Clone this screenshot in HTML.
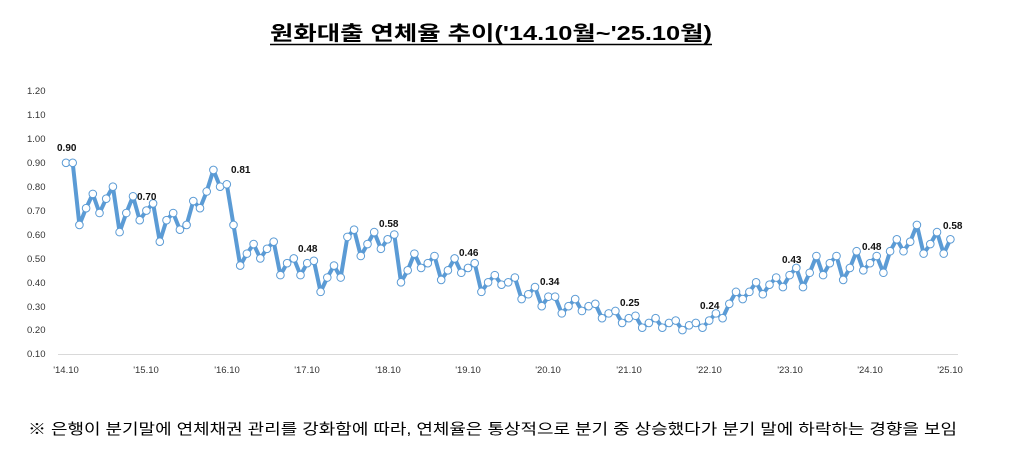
<!DOCTYPE html>
<html><head><meta charset="utf-8"><style>
html,body{margin:0;padding:0;background:#fff;width:1009px;height:469px;overflow:hidden}
</style></head><body>
<svg width="1009" height="469" xmlns="http://www.w3.org/2000/svg" font-family="'Liberation Sans','Noto Sans CJK KR',sans-serif" style="position:absolute;left:0;top:0">
<text x="491" y="40" text-anchor="middle" font-size="20" font-weight="bold" fill="#000" textLength="442" lengthAdjust="spacingAndGlyphs">원화대출 연체율 추이('14.10월~'25.10월)</text>
<line x1="270" y1="44.5" x2="712" y2="44.5" stroke="#000" stroke-width="1.5"/>
<g font-size="9.5" fill="#333" text-anchor="start">
<text x="27" y="94">1.20</text><text x="27" y="118">1.10</text><text x="27" y="142">1.00</text><text x="27" y="166">0.90</text><text x="27" y="190">0.80</text><text x="27" y="214">0.70</text><text x="27" y="238">0.60</text><text x="27" y="262">0.50</text><text x="27" y="286">0.40</text><text x="27" y="310">0.30</text><text x="27" y="333">0.20</text><text x="27" y="357">0.10</text>
</g>
<line x1="58" y1="354.5" x2="958" y2="354.5" stroke="#d9d9d9" stroke-width="1"/>
<g font-size="9.5" fill="#333" text-anchor="middle">
<text x="66" y="373">'14.10</text><text x="146" y="373">'15.10</text><text x="227" y="373">'16.10</text><text x="307" y="373">'17.10</text><text x="388" y="373">'18.10</text><text x="468" y="373">'19.10</text><text x="548" y="373">'20.10</text><text x="629" y="373">'21.10</text><text x="709" y="373">'22.10</text><text x="790" y="373">'23.10</text><text x="870" y="373">'24.10</text><text x="950" y="373">'25.10</text>
</g>
<g id="series"></g>
<g font-size="10" font-weight="bold" fill="#111">
<text x="57" y="151">0.90</text>
<text x="137" y="200">0.70</text>
<text x="231" y="173">0.81</text>
<text x="298" y="252">0.48</text>
<text x="379" y="227">0.58</text>
<text x="459" y="256">0.46</text>
<text x="540" y="285">0.34</text>
<text x="620" y="306">0.25</text>
<text x="700" y="309">0.24</text>
<text x="782" y="263">0.43</text>
<text x="862" y="250">0.48</text>
<text x="943" y="229">0.58</text>
</g>
<text x="28" y="434" font-size="15" fill="#000" textLength="929" lengthAdjust="spacingAndGlyphs">※ 은행이 분기말에 연체채권 관리를 강화함에 따라, 연체율은 통상적으로 분기 중 상승했다가 분기 말에 하락하는 경향을 보임</text>
</svg>
<script>
var d=[0.90,0.90,0.64,0.71,0.77,0.69,0.75,0.80,0.61,0.69,0.76,0.66,0.70,0.73,0.57,0.66,0.69,0.62,0.64,0.74,0.71,0.78,0.87,0.80,0.81,0.64,0.47,0.52,0.56,0.50,0.54,0.57,0.43,0.48,0.50,0.43,0.48,0.49,0.36,0.42,0.47,0.42,0.59,0.62,0.51,0.56,0.61,0.54,0.58,0.60,0.40,0.45,0.52,0.46,0.48,0.51,0.41,0.45,0.50,0.44,0.46,0.48,0.36,0.40,0.43,0.39,0.40,0.42,0.33,0.35,0.38,0.30,0.34,0.34,0.27,0.30,0.33,0.28,0.30,0.31,0.25,0.27,0.28,0.23,0.25,0.26,0.21,0.23,0.25,0.21,0.23,0.24,0.20,0.22,0.23,0.21,0.24,0.27,0.25,0.31,0.36,0.33,0.36,0.40,0.35,0.39,0.42,0.38,0.43,0.46,0.38,0.44,0.51,0.43,0.48,0.51,0.41,0.46,0.53,0.45,0.48,0.51,0.44,0.53,0.58,0.53,0.57,0.64,0.52,0.56,0.61,0.52,0.58];
var ns="http://www.w3.org/2000/svg",g=document.getElementById("series"),pts=[];
for(var i=0;i<d.length;i++){pts.push([66+i*6.7,354-(d[i]-0.1)*239]);}
var pl=document.createElementNS(ns,"polyline");
pl.setAttribute("points",pts.map(function(p){return p[0].toFixed(1)+","+p[1].toFixed(1)}).join(" "));
pl.setAttribute("fill","none");pl.setAttribute("stroke","#5b9bd5");pl.setAttribute("stroke-width","4");pl.setAttribute("stroke-linejoin","round");
g.appendChild(pl);
pts.forEach(function(p){var c=document.createElementNS(ns,"circle");c.setAttribute("cx",p[0]);c.setAttribute("cy",p[1]);c.setAttribute("r","3.8");c.setAttribute("fill","#fff");c.setAttribute("stroke","#5b9bd5");c.setAttribute("stroke-width","1");g.appendChild(c);});
</script>
</body></html>
